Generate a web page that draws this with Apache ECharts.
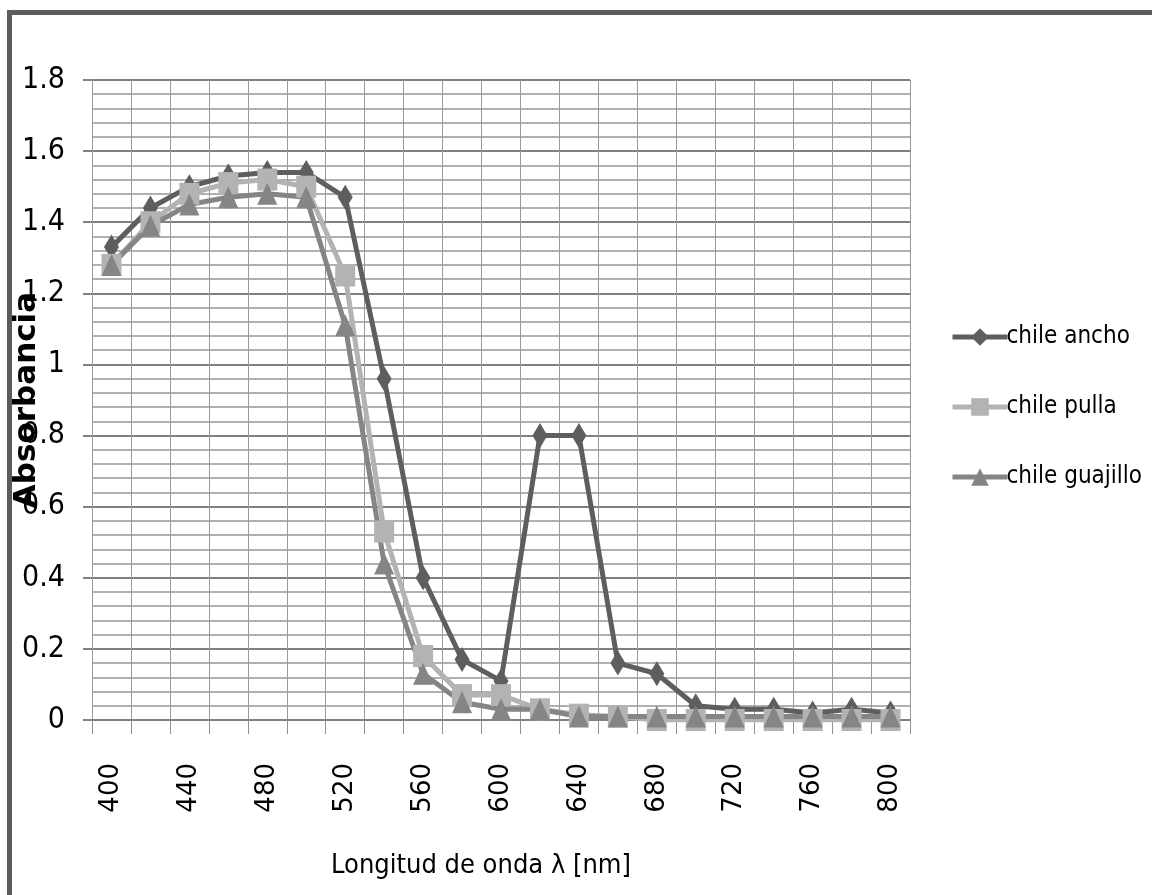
<!DOCTYPE html>
<html lang="es">
<head>
    <meta charset="UTF-8">
    <title>Absorbancia de chiles</title>
    <script src="https://cdn.jsdelivr.net/npm/echarts@6/dist/echarts.min.js"></script>
    <style>
        html, body { margin: 0; padding: 0; background: #fff; }
    </style>
</head>
<body>
    <div id="main" style="width: 1152px;height:895px;"></div>
    <script>
        // longitud de onda (nm)
        var wavelengths = ['400', '420', '440', '460', '480', '500', '520', '540', '560', '580', '600',
                           '620', '640', '660', '680', '700', '720', '740', '760', '780', '800'];

        var chileAncho = [1.33, 1.44, 1.50, 1.53, 1.54, 1.54, 1.47, 0.96, 0.40, 0.17, 0.11,
                          0.80, 0.80, 0.16, 0.13, 0.04, 0.03, 0.03, 0.02, 0.03, 0.02];
        var chilePulla = [1.28, 1.40, 1.48, 1.51, 1.52, 1.50, 1.25, 0.53, 0.18, 0.07, 0.07,
                          0.03, 0.015, 0.01, 0, 0, 0, 0, 0, 0, 0];
        var chileGuajillo = [1.28, 1.39, 1.45, 1.47, 1.48, 1.47, 1.11, 0.44, 0.13, 0.05, 0.03,
                             0.03, 0.01, 0.01, 0.01, 0.01, 0.01, 0.01, 0.01, 0.01, 0.01];

        var narrow = '"DejaVu Sans Condensed", "Liberation Sans Narrow", sans-serif';

        var chart = echarts.init(document.getElementById('main'));
        var option = {
            animation: false,
            backgroundColor: '#fff',
            graphic: [{
                type: 'rect',
                shape: { x: 9.5, y: 12.5, width: 1300, height: 1000 },
                style: { fill: 'none', stroke: '#5c5c5c', lineWidth: 5 },
                silent: true
            }],
            grid: {
                left: 92,
                right: 242,
                top: 80,
                bottom: 175,
                containLabel: false,
                outerBoundsMode: 'none'
            },
            legend: {
                orient: 'vertical',
                left: 945,
                top: 320,
                itemWidth: 55,
                itemHeight: 22,
                itemGap: 46,
                lineStyle: { width: 5 },
                textStyle: {
                    fontFamily: narrow,
                    fontSize: 24,
                    color: '#000',
                    padding: [0, 0, 0, -6]
                },
                data: ['chile ancho', 'chile pulla', 'chile guajillo']
            },
            xAxis: {
                type: 'category',
                data: wavelengths,
                boundaryGap: true,
                name: 'Longitud de onda λ [nm]',
                nameLocation: 'middle',
                nameGap: 132,
                nameMoveOverlap: false,
                nameTextStyle: {
                    fontFamily: narrow,
                    fontSize: 27,
                    color: '#000',
                    padding: [0, 40, 0, 0]
                },
                axisLine: { show: true, lineStyle: { color: '#808080', width: 2 } },
                axisTick: { show: true, interval: 0, length: 14, lineStyle: { color: '#909090' } },
                axisLabel: {
                    interval: 1,
                    rotate: 90,
                    margin: 43,
                    fontFamily: 'DejaVu Sans, sans-serif',
                    fontSize: 26,
                    color: '#000'
                },
                splitLine: { show: true, interval: 0, lineStyle: { color: '#9a9a9a', width: 1 } }
            },
            yAxis: {
                type: 'value',
                min: 0,
                max: 1.8,
                interval: 0.2,
                name: 'Absorbancia',
                nameLocation: 'middle',
                nameGap: 50,
                nameMoveOverlap: false,
                nameTextStyle: {
                    fontFamily: 'DejaVu Sans, sans-serif',
                    fontWeight: 'bold',
                    fontSize: 31,
                    color: '#000'
                },
                axisLine: { show: true, lineStyle: { color: '#9a9a9a', width: 1 } },
                axisTick: { show: true, length: 9, lineStyle: { color: '#808080', width: 2 } },
                axisLabel: {
                    margin: 27,
                    fontFamily: narrow,
                    fontSize: 30,
                    color: '#000'
                },
                splitLine: { show: true, lineStyle: { color: '#808080', width: 2 } },
                minorTick: { show: false, splitNumber: 5 },
                minorSplitLine: { show: true, lineStyle: { color: '#b0b0b0', width: 2 } }
            },
            series: [{
                name: 'chile ancho',
                type: 'line',
                data: chileAncho,
                color: '#5e5e5e',
                symbol: 'diamond',
                symbolSize: [15, 25],
                lineStyle: { width: 5 },
                itemStyle: { color: '#5e5e5e' }
            }, {
                name: 'chile pulla',
                type: 'line',
                data: chilePulla,
                color: '#b3b3b3',
                symbol: 'rect',
                symbolSize: [20, 22],
                lineStyle: { width: 5 },
                itemStyle: { color: '#b3b3b3' }
            }, {
                name: 'chile guajillo',
                type: 'line',
                data: chileGuajillo,
                color: '#858585',
                symbol: 'triangle',
                symbolSize: [20, 22],
                lineStyle: { width: 5 },
                itemStyle: { color: '#858585' }
            }]
        };

        chart.setOption(option);
    </script>
</body>
</html>
